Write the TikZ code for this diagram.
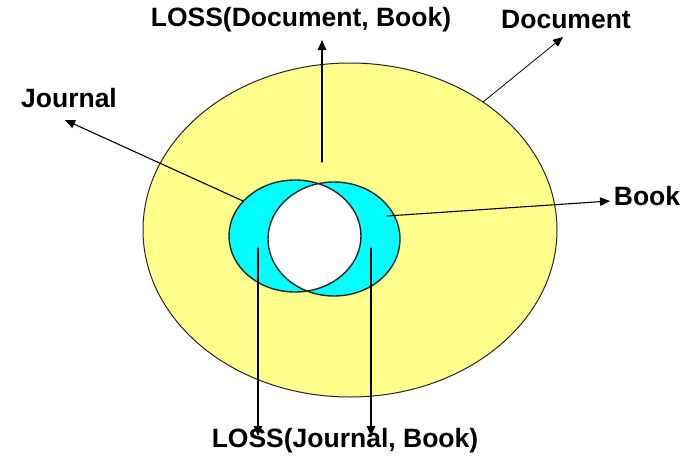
\documentclass[tikz,border=0pt]{standalone}
\usepackage{fontspec}
\setmainfont{Liberation Sans}
\usetikzlibrary{arrows.meta}
\definecolor{paleyellow}{RGB}{255,255,140}
\definecolor{lenscyan}{RGB}{0,255,255}
\tikzset{
  lbl/.style={font=\fontsize{26.5}{30}\selectfont\bfseries,inner sep=0pt},
  ptr/.style={-{Triangle[length=10pt,width=8.5pt]},line width=1.1pt},
  rim/.style={draw=black!85,line width=1.4pt}
}
\begin{document}
\begin{tikzpicture}[x=1pt,y=-1pt,line cap=round,line join=round]
  \useasboundingbox (0,0) rectangle (695,463);
  % outer set and the two overlapping subsets
  \fill[paleyellow] (350,230) ellipse[x radius=207,y radius=167];
  \draw[rim,line width=1pt] (350,230) ellipse[x radius=207,y radius=167];
  \fill[lenscyan] (295,236) ellipse[x radius=66,y radius=56];
  \fill[lenscyan] (334,239) ellipse[x radius=66,y radius=57];
  \begin{scope}
    \clip (295,236) ellipse[x radius=66,y radius=56];
    \fill[white] (334,239) ellipse[x radius=66,y radius=57];
  \end{scope}
  \draw[rim] (295,236) ellipse[x radius=66,y radius=56];
  \draw[rim] (334,239) ellipse[x radius=66,y radius=57];
  % labels
  \node[lbl] (lossDB) at (301,20) {LOSS(Document, Book)};
  \node[lbl] (doc) at (566,20) {Document};
  \node[lbl] (jrn) at (69,98) {Journal};
  \node[lbl] (book) at (647,196) {Book};
  \node[lbl] (lossJB) at (345,441) {LOSS(Journal, Book)};
  % pointer ends
  \coordinate (inDoc) at (322,162);
  \coordinate (tipDB) at (322,40);
  \coordinate (rimDoc) at (483,102);
  \coordinate (tipDoc) at (563,37);
  \coordinate (rimJrn) at (243,201);
  \coordinate (tipJrn) at (65,120);
  \coordinate (inBook) at (387,216);
  \coordinate (tipBook) at (610,201);
  \coordinate (inJrn) at (258,248);
  \coordinate (tipJ) at (258,436);
  \coordinate (inBk) at (371,248);
  \coordinate (tipB) at (371,436);
  \draw[ptr] (inDoc) -- (tipDB);
  \draw[ptr,line width=.8pt] (rimDoc) -- (tipDoc);
  \draw[ptr] (rimJrn) -- (tipJrn);
  \draw[ptr] (inBook) -- (tipBook);
  \draw[ptr] (inJrn) -- (tipJ);
  \draw[ptr] (inBk) -- (tipB);
\end{tikzpicture}
\end{document}
